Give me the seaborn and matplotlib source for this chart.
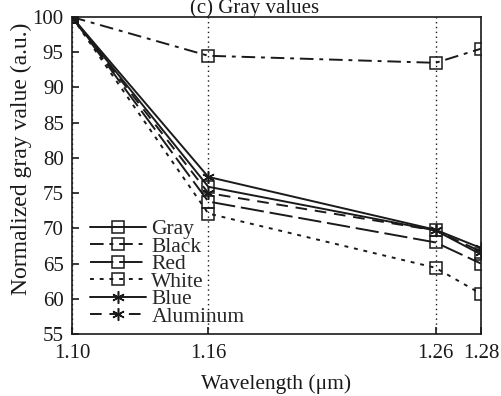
import matplotlib
matplotlib.use("Agg")
import matplotlib.pyplot as plt
import seaborn as sns

wavelength = [1.10, 1.16, 1.26, 1.28]
gray = [100, 75.9, 69.7, 66.3]
black = [100, 94.5, 93.5, 95.5]
red = [100, 73.8, 68.0, 65.0]
white = [100, 72.1, 64.4, 60.7]
blue = [100, 77.3, 69.8, 67.2]
aluminum = [100, 75.0, 69.7, 66.7]

names = ["Gray", "Black", "Red", "White", "Blue", "Aluminum"]
series = [gray, black, red, white, blue, aluminum]
xticks = [1.10, 1.16, 1.26, 1.28]
xticklabels = ["1.10", "1.16", "1.26", "1.28"]
yticks = [55, 60, 65, 70, 75, 80, 85, 90, 95, 100]

sns.set_theme(style="ticks")
plt.rcParams["font.family"] = ["Liberation Serif", "DejaVu Serif"]

styles = {
    "Gray": dict(linestyle="-", marker="s"),
    "Black": dict(linestyle=(0, (7, 3, 2, 3)), marker="s"),
    "Red": dict(linestyle=(0, (12, 3)), marker="s"),
    "White": dict(linestyle=(0, (2, 3)), marker="s"),
    "Blue": dict(linestyle="-", marker=(6, 2, 0)),
    "Aluminum": dict(linestyle=(0, (6, 4)), marker=(6, 2, 0)),
}

fig = plt.figure(figsize=(5.01, 3.96), dpi=100)
ax = fig.add_axes([0.1437, 0.1566, 0.8163, 0.8004])

for name, vals in zip(names, series):
    st = styles[name]
    sns.lineplot(x=wavelength, y=vals, ax=ax, color="k", linewidth=1.4,
                 linestyle=st["linestyle"], marker=st["marker"],
                 markersize=9, markerfacecolor="none",
                 markeredgecolor="k", markeredgewidth=1.1,
                 label=name, legend=False)

ax.set_xlim(1.10, 1.28)
ax.set_ylim(55, 100)
ax.set_xticks(xticks)
ax.set_xticklabels(xticklabels)
ax.set_yticks(yticks)
ax.tick_params(direction="in", length=5, width=1.2, labelsize=15, colors="k")
ax.tick_params(axis="x", pad=7)
ax.tick_params(axis="y", pad=6)
for sp in ax.spines.values():
    sp.set_linewidth(1.2)
    sp.set_color("k")
ax.xaxis.grid(True, linestyle=(0, (1, 2.5)), color="k", linewidth=1.0)
ax.yaxis.grid(False)

ax.set_xlabel("Wavelength (\u03bcm)", fontsize=15.5, color="k", labelpad=8)
ax.set_ylabel("Normalized gray value (a.u.)", fontsize=17, color="k")
ax.yaxis.set_label_coords(-0.097, 0.552)
fig.text(255 / 501, 1 - 12.5 / 396, "(c) Gray values", fontsize=15,
         color="k", ha="center", va="baseline")

handles, labels = ax.get_legend_handles_labels()
ax.legend(handles, labels, loc="upper left", bbox_to_anchor=(0.044, 0.362),
          frameon=False, fontsize=15.5, handlelength=2.6, handletextpad=0.25,
          labelspacing=-0.12, borderaxespad=0.0, borderpad=0.0)

fig.savefig("out.png", dpi=100)
